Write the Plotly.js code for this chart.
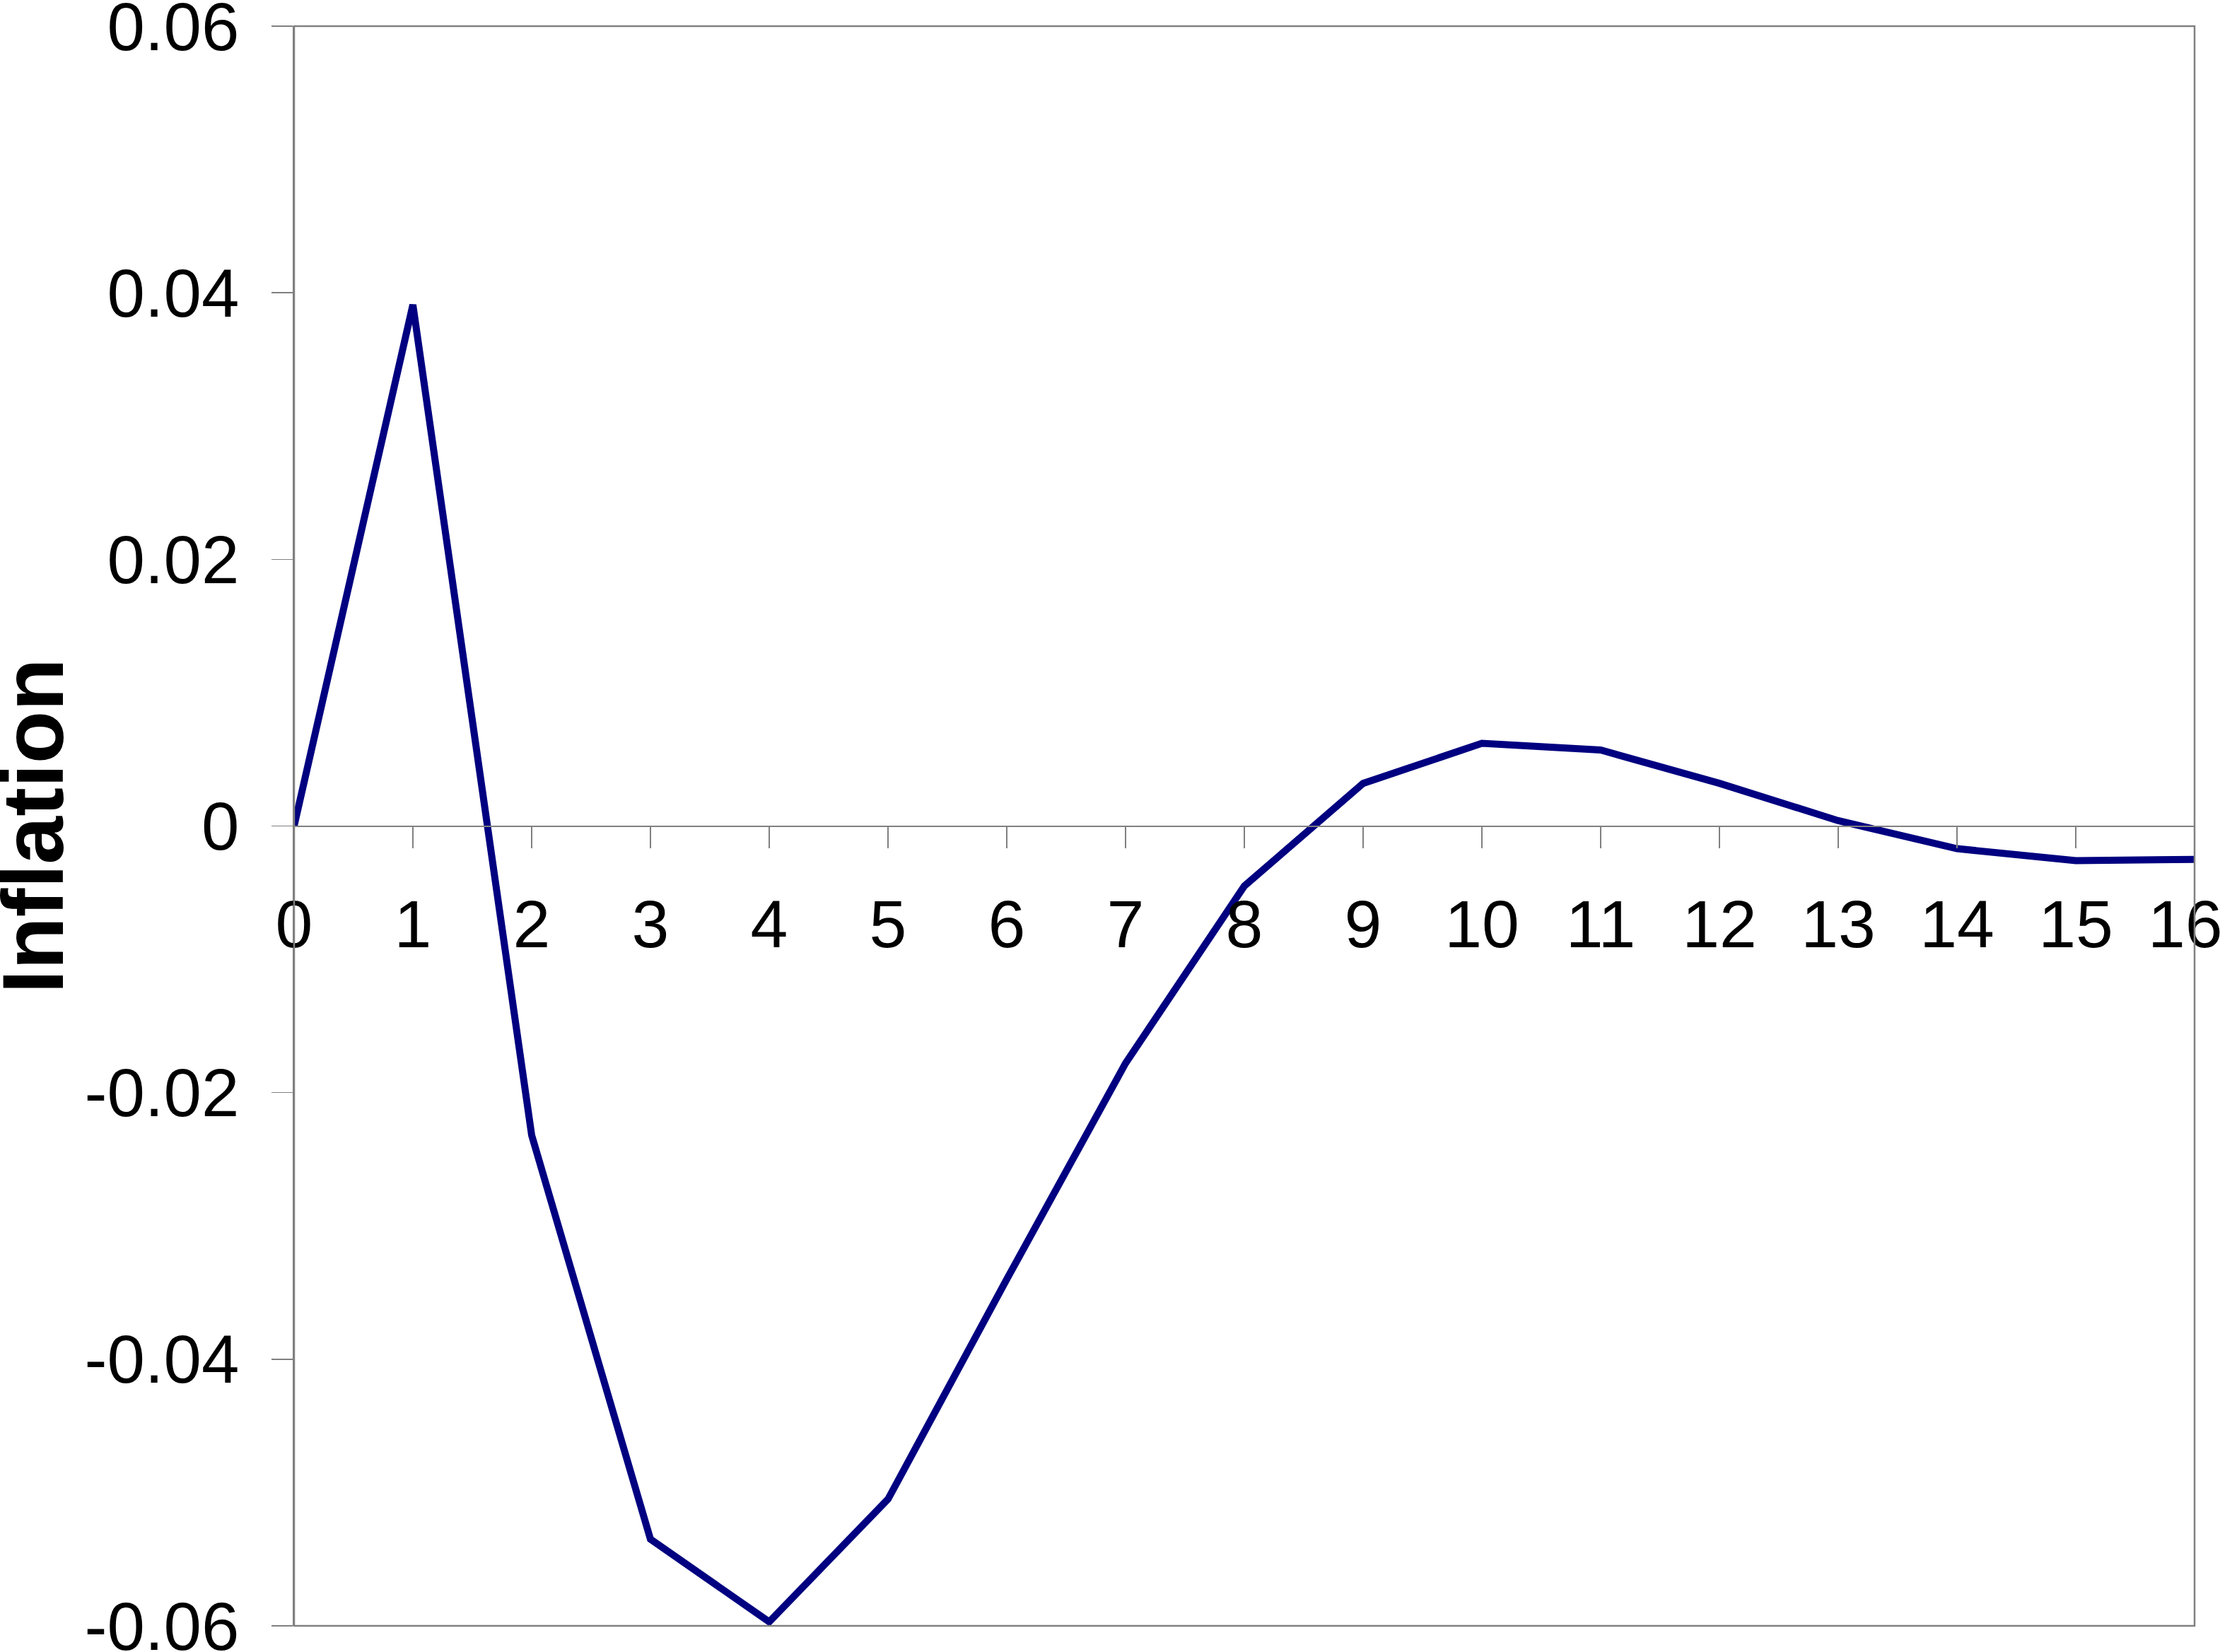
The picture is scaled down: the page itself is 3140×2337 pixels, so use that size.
<!DOCTYPE html>
<html>
<head>
<meta charset="utf-8">
<script src="https://cdn.plot.ly/plotly-3.0.1.min.js"></script>
<style>
  html, body { margin: 0; padding: 0; background: #fff; }
  #chart { width: 3140px; height: 2337px; }
</style>
</head>
<body>
<div id="chart"></div>
<script>
// quarters after the shock
var periods = [0, 1, 2, 3, 4, 5, 6, 7, 8, 9, 10, 11, 12, 13, 14, 15, 16];
var periodLabels = ['0', '1', '2', '3', '4', '5', '6', '7', '8', '9', '10', '11', '12', '13', '14', '15', '16\u00a0'];
// inflation response
var inflation = [0, 0.0391, -0.0232, -0.0535, -0.0597, -0.0505, -0.0340, -0.0178,
                 -0.0045, 0.0032, 0.0062, 0.0057, 0.0032, 0.0004, -0.0017, -0.0026, -0.0025];

var yTickVals = [-0.06, -0.04, -0.02, 0, 0.02, 0.04, 0.06];
var yTickText = ['-0.06', '-0.04', '-0.02', '0', '0.02', '0.04', '0.06'];

var font = 'Liberation Sans, Arial, sans-serif';

var trace = {
    x: periods,
    y: inflation,
    mode: 'lines',
    type: 'scatter',
    line: { color: '#000080', width: 10 },
    hoverinfo: 'x+y'
};

var layout = {
    width: 3140,
    height: 2337,
    margin: { l: 416, r: 36, t: 37, b: 37 },
    paper_bgcolor: '#fff',
    plot_bgcolor: '#fff',
    showlegend: false,
    font: { family: font, color: '#000' },
    xaxis: {
        range: [0, 16],
        anchor: 'free',
        position: 0.5,
        tickvals: periods,
        ticktext: periodLabels,
        ticks: 'outside',
        ticklen: 30,
        tickwidth: 1.5,
        tickcolor: '#808080',
        ticklabelstandoff: 26,
        ticklabeloverflow: 'allow',
        tickfont: { family: font, size: 95, color: '#000' },
        showline: true,
        linecolor: '#808080',
        linewidth: 2.5,
        showgrid: false,
        zeroline: false,
        fixedrange: true
    },
    yaxis: {
        range: [-0.06, 0.06],
        tickvals: yTickVals,
        ticktext: yTickText,
        ticks: 'outside',
        ticklen: 30,
        tickwidth: 1.5,
        tickcolor: '#808080',
        ticklabelstandoff: 26,
        ticklabeloverflow: 'allow',
        tickfont: { family: font, size: 96, color: '#000' },
        showline: true,
        linecolor: '#808080',
        linewidth: 2.5,
        showgrid: false,
        zeroline: false,
        fixedrange: true
    },
    // axis title as a rotated annotation so it can sit right at the left edge
    annotations: [{
        text: 'Inflation',
        xref: 'paper', yref: 'paper',
        x: -0.1376, y: 0.5,
        xanchor: 'center', yanchor: 'middle',
        textangle: -90,
        showarrow: false,
        font: { family: font, size: 122, weight: 'bold', color: '#000' }
    }],
    shapes: [{
        type: 'rect', xref: 'paper', yref: 'paper',
        x0: 0, x1: 1, y0: 0, y1: 1,
        line: { color: '#808080', width: 2.5 }
    }]
};

Plotly.newPlot('chart', [trace], layout, { displayModeBar: false, staticPlot: true });
</script>
</body>
</html>
